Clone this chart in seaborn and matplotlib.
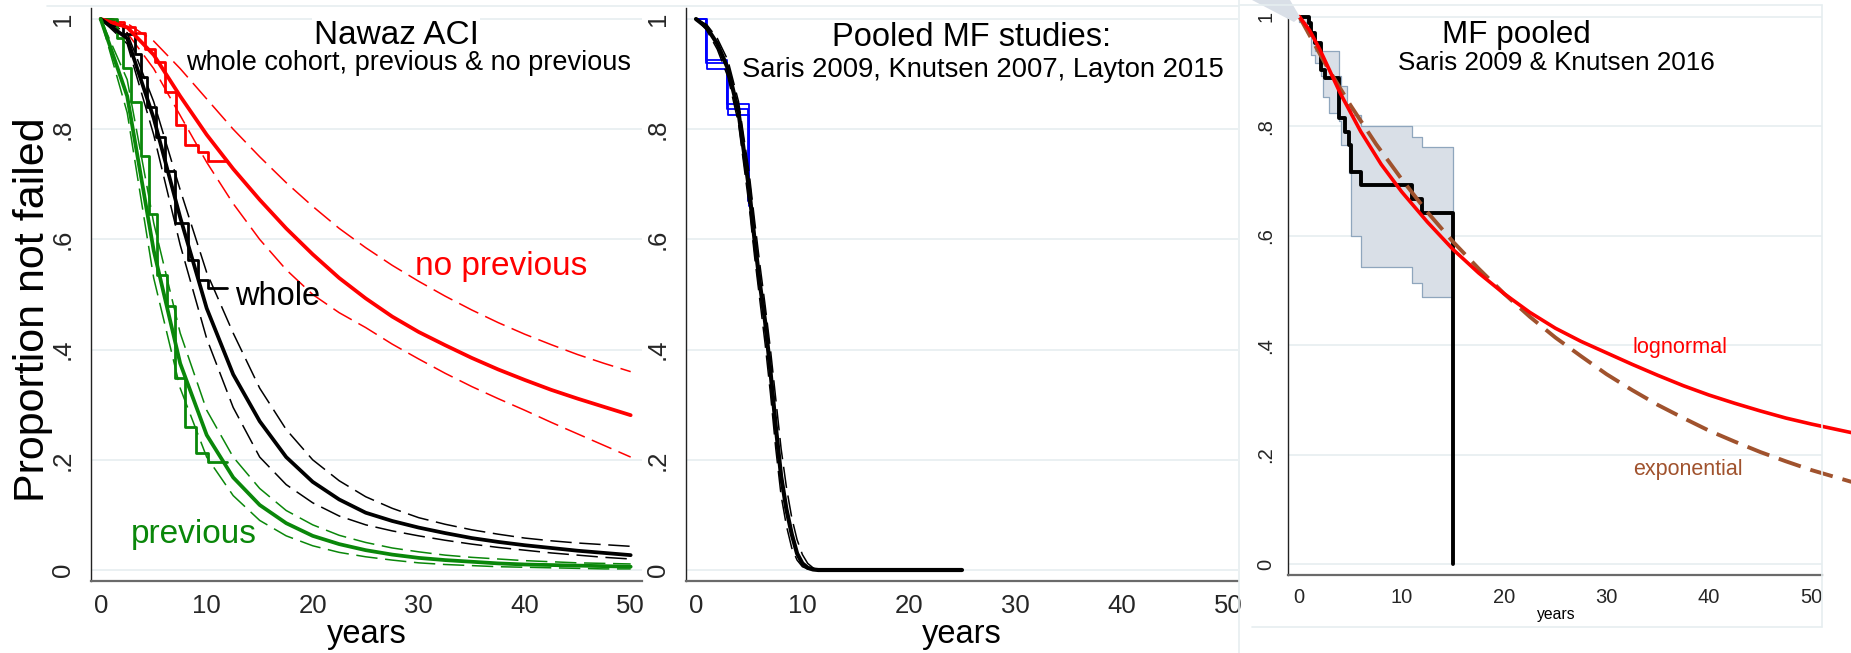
import matplotlib
matplotlib.use('Agg')
import matplotlib.pyplot as plt
import seaborn as sns
from matplotlib.lines import Line2D
from matplotlib.patches import Polygon

sns.set_style('white')
plt.rcParams['font.family'] = ['Liberation Sans', 'DejaVu Sans']

# ---------------- panel 1 : Nawaz ACI ----------------
fit_t = [0, 2.5, 5, 7.5, 10, 12.5, 15, 17.5, 20, 22.5, 25, 27.5, 30, 32.5, 35, 37.5, 40, 42.5, 45, 47.5, 50]

nop_km_t = [0, 1.2, 2.2, 3.2, 4.2, 5.1, 6.1, 7.1, 8.0, 9.2, 10.1, 11.9]
nop_km_s = [1, 0.995, 0.985, 0.975, 0.945, 0.922, 0.868, 0.808, 0.771, 0.759, 0.742, 0.742]
nop_fit = [1, 0.985, 0.935, 0.86, 0.79, 0.728, 0.672, 0.62, 0.573, 0.53, 0.493, 0.46, 0.432,
           0.408, 0.385, 0.364, 0.345, 0.327, 0.311, 0.296, 0.281]
nop_hi = [1, 0.992, 0.96, 0.91, 0.855, 0.80, 0.75, 0.703, 0.66, 0.62, 0.585, 0.553, 0.524,
          0.497, 0.472, 0.449, 0.428, 0.409, 0.391, 0.375, 0.36]
nop_lo = [1, 0.975, 0.91, 0.825, 0.74, 0.665, 0.60, 0.545, 0.50, 0.467, 0.44, 0.41, 0.383,
          0.357, 0.333, 0.311, 0.29, 0.268, 0.247, 0.226, 0.205]

whole_km_t = [0, 1, 2.1, 3.2, 3.8, 4.4, 5.2, 6.1, 7.0, 8.2, 9.2, 10.1, 11.9]
whole_km_s = [1, 0.99, 0.973, 0.937, 0.894, 0.84, 0.785, 0.725, 0.63, 0.562, 0.526, 0.511, 0.511]
whole_fit = [1, 0.965, 0.82, 0.64, 0.475, 0.355, 0.27, 0.205, 0.16, 0.128, 0.104, 0.089, 0.077,
             0.067, 0.058, 0.051, 0.045, 0.04, 0.035, 0.031, 0.027]
whole_hi = [1, 0.975, 0.85, 0.69, 0.54, 0.43, 0.33, 0.255, 0.20, 0.162, 0.133, 0.112, 0.095,
            0.083, 0.073, 0.065, 0.058, 0.053, 0.049, 0.046, 0.043]
whole_lo = [1, 0.955, 0.79, 0.59, 0.42, 0.295, 0.205, 0.155, 0.122, 0.098, 0.082, 0.071, 0.062,
            0.054, 0.047, 0.041, 0.036, 0.031, 0.027, 0.023, 0.02]

prev_km_t = [0, 1.5, 2.1, 2.9, 3.8, 4.6, 5.3, 6.3, 7.0, 8.0, 9.0, 10.1, 11.9]
prev_km_s = [1, 0.966, 0.912, 0.85, 0.752, 0.647, 0.535, 0.48, 0.348, 0.26, 0.212, 0.196, 0.196]
prev_fit = [1, 0.86, 0.58, 0.375, 0.245, 0.168, 0.118, 0.085, 0.062, 0.047, 0.036, 0.028, 0.022,
            0.018, 0.015, 0.012, 0.01, 0.009, 0.008, 0.007, 0.006]
prev_hi = [1, 0.89, 0.63, 0.43, 0.29, 0.205, 0.148, 0.108, 0.082, 0.063, 0.05, 0.04, 0.033,
           0.027, 0.023, 0.02, 0.017, 0.015, 0.013, 0.012, 0.011]
prev_lo = [1, 0.83, 0.53, 0.33, 0.205, 0.135, 0.09, 0.062, 0.044, 0.032, 0.024, 0.018, 0.013,
           0.01, 0.008, 0.006, 0.005, 0.004, 0.003, 0.002, 0.002]

# ---------------- panel 2 : pooled MF studies ----------------
pool_t = [0, 1, 2, 3, 4, 5, 5.5, 6, 6.5, 7, 7.5, 8, 8.5, 9, 9.5, 10, 10.5, 11, 11.5, 12, 25]
pool_fit = [1, 0.985, 0.955, 0.91, 0.83, 0.69, 0.60, 0.52, 0.45, 0.36, 0.26, 0.17, 0.11, 0.065, 0.03, 0.012, 0.004, 0.001, 0, 0, 0]
pool_hi = [1, 0.99, 0.965, 0.925, 0.85, 0.72, 0.635, 0.555, 0.48, 0.40, 0.31, 0.22, 0.15, 0.095, 0.055, 0.028, 0.012, 0.004, 0.001, 0, 0]
pool_lo = [1, 0.98, 0.945, 0.895, 0.81, 0.66, 0.57, 0.49, 0.41, 0.32, 0.22, 0.135, 0.08, 0.04, 0.018, 0.006, 0.002, 0, 0, 0, 0]
pool_km = [
    ([0, 0.9, 2.9, 4.9], [1, 0.92, 0.837, 0.67]),
    ([0, 1.0, 3.0, 5.0], [1, 0.91, 0.825, 0.66]),
    ([0, 0.95, 2.95, 4.95], [1, 0.925, 0.845, 0.69]),
]

# ---------------- panel 3 : MF pooled ----------------
mf_km_t = [0, 0.97, 1.16, 1.55, 2.13, 2.5, 3.87, 4.45, 4.83, 5.03, 6.0, 11.0, 12.0, 15.0]
mf_km_s = [1, 0.988, 0.97, 0.952, 0.903, 0.888, 0.815, 0.79, 0.766, 0.717, 0.693, 0.667, 0.642, 0.0]
band_t = [0, 0.8, 1.16, 1.35, 1.55, 2.13, 2.32, 2.9, 3.87, 4.06, 4.64, 4.83, 5.03, 6.0, 11.0, 12.0, 15.0]
band_hi = [1.0, 0.97, 0.97, 0.97, 0.937, 0.937, 0.937, 0.937, 0.891, 0.873, 0.839, 0.839, 0.821, 0.801, 0.781, 0.762, 0.762]
band_lo = [0.99, 0.97, 0.93, 0.93, 0.915, 0.891, 0.854, 0.824, 0.809, 0.766, 0.766, 0.714, 0.60, 0.543, 0.513, 0.488, 0.488]
logn_t = [0, 1, 2, 3, 4, 6, 8, 10, 12.5, 15, 17.5, 20, 22.5, 25, 27.5, 30, 32.5, 35, 37.5, 40, 42.5, 45, 47.5, 50, 54]
logn_s = [1, 0.975, 0.94, 0.90, 0.86, 0.79, 0.73, 0.68, 0.625, 0.575, 0.532, 0.494, 0.46, 0.431, 0.407,
          0.386, 0.365, 0.345, 0.326, 0.309, 0.294, 0.28, 0.267, 0.256, 0.24]
expo_t = [0, 2.5, 5, 7.5, 10, 12.5, 15, 17.5, 20, 22.5, 25, 27.5, 30, 32.5, 35, 37.5, 40, 42.5, 45, 47.5, 50, 54]
expo_s = [1, 0.915, 0.838, 0.767, 0.703, 0.643, 0.589, 0.54, 0.494, 0.452, 0.414, 0.38, 0.347,
          0.318, 0.291, 0.267, 0.244, 0.224, 0.205, 0.188, 0.172, 0.15]

yticks = [0, 0.2, 0.4, 0.6, 0.8, 1]
ylabels = ['0', '.2', '.4', '.6', '.8', '1']
xticks = [0, 10, 20, 30, 40, 50]

RED = '#ff0000'
GREEN = '#0a870a'
BROWN = '#a0522d'
GRID = '#e6eef0'
DASH = (0, (14, 5))

W, H = 1851, 653
fig = plt.figure(figsize=(W / 100, H / 100), dpi=100)


def px_axes(left, right, top, bottom):
    return fig.add_axes([left / W, 1 - bottom / H, (right - left) / W, (bottom - top) / H])


def label(x, y, s, size, color='black', **kw):
    fig.text(x / W, 1 - y / H, s, fontsize=size, color=color, ha='center', va='center', **kw)


def curve(ax, t, s, **kw):
    sns.lineplot(x=t, y=s, ax=ax, estimator=None, errorbar=None, sort=False, **kw)


def style(ax, xlim, ylim, tsize, ypad):
    ax.set_xlim(*xlim)
    ax.set_ylim(*ylim)
    for side in ['top', 'right']:
        ax.spines[side].set_visible(False)
    ax.spines['left'].set_color('#222222')
    ax.spines['left'].set_linewidth(1.0)
    ax.spines['bottom'].set_color('#6a6a6a')
    ax.spines['bottom'].set_linewidth(1.6)
    ax.set_xticks(xticks)
    ax.set_xticklabels([str(v) for v in xticks])
    ax.set_yticks(yticks)
    ax.set_yticklabels(ylabels)
    ax.tick_params(axis='x', length=4.5, width=1.0, color='#6a6a6a', pad=5, labelsize=tsize)
    ax.tick_params(axis='y', length=4.5, width=1.0, color='#444444', pad=ypad, labelsize=tsize)
    for lab in ax.get_yticklabels():
        lab.set_rotation(90)
        lab.set_va('center')
    ax.set_xlabel('')
    ax.set_ylabel('')
    ax.patch.set_alpha(0)


# ---- panel 1
ax1 = px_axes(90.7, 641.7, 8, 580.7)
ax1.hlines(yticks, -1, 52, color=GRID, lw=1.2, zorder=0)
for hi, lo, col in [(nop_hi, nop_lo, RED), (whole_hi, whole_lo, 'black'), (prev_hi, prev_lo, GREEN)]:
    curve(ax1, fit_t, hi, color=col, lw=1.1, linestyle=DASH)
    curve(ax1, fit_t, lo, color=col, lw=1.1, linestyle=DASH)
curve(ax1, nop_km_t, nop_km_s, color=RED, lw=2.0, drawstyle='steps-post')
curve(ax1, whole_km_t, whole_km_s, color='black', lw=2.0, drawstyle='steps-post')
curve(ax1, prev_km_t, prev_km_s, color=GREEN, lw=2.0, drawstyle='steps-post')
curve(ax1, fit_t, nop_fit, color=RED, lw=2.7)
curve(ax1, fit_t, whole_fit, color='black', lw=2.7)
curve(ax1, fit_t, prev_fit, color=GREEN, lw=2.7)
style(ax1, (-0.943, 51.04), (-0.0194, 1.02), 18.5, 7)

# ---- panel 2
ax2 = px_axes(685.7, 1238.3, 8, 580.7)
ax2.hlines(yticks, -1, 52, color=GRID, lw=1.2, zorder=0)
for kt, ks in pool_km:
    curve(ax2, kt, ks, color='#0000ff', lw=1.3, drawstyle='steps-post')
curve(ax2, pool_t, pool_hi, color='black', lw=1.1, linestyle=DASH)
curve(ax2, pool_t, pool_lo, color='black', lw=1.1, linestyle=DASH)
curve(ax2, pool_t, pool_fit, color='black', lw=3.0)
style(ax2, (-0.968, 50.97), (-0.0194, 1.02), 18.5, 7)

# ---- panel 3
ax3 = px_axes(1288.3, 1851, 6.7, 574.7)
ax3.hlines(yticks, -1.07, 51.0, color=GRID, lw=1.2, zorder=0)
ax3.fill_between(band_t, band_lo, band_hi, step='post', facecolor='#d9dfe7',
                 edgecolor='#8fa6bd', lw=0.9, zorder=1)
curve(ax3, mf_km_t, mf_km_s, color='black', lw=2.8, drawstyle='steps-post')
curve(ax3, expo_t, expo_s, color=BROWN, lw=2.8, linestyle=(0, (6, 2.6)))
curve(ax3, logn_t, logn_s, color=RED, lw=2.6)
style(ax3, (-1.074, 53.86), (-0.019, 1.018), 14.5, 5)
ax3.spines['bottom'].set_bounds(-1.074, 51.0)

# screenshot borders / faint frame lines
for xs, ys in [([47, 1239], [6, 6]), ([1239, 1239], [0, 653]), ([1252, 1822], [627, 627]),
               ([1822, 1822], [5, 627]), ([1240, 1822], [5, 5])]:
    fig.add_artist(Line2D([x / W for x in xs], [1 - y / H for y in ys], color=GRID, lw=1.2))
fig.add_artist(Polygon([(1252 / W, 1.0), (1290 / W, 1.0), (1300 / W, 1 - 17 / H), (1294 / W, 1 - 22 / H)],
                       closed=True, facecolor='#d9dfe7', edgecolor='none'))

# texts
label(396, 35, 'Nawaz ACI', 24, bbox=dict(facecolor='white', edgecolor='none', pad=1))
label(409, 63, 'whole cohort, previous & no previous', 19.5)
label(501, 267, 'no previous', 24, RED)
label(277.5, 297, 'whole', 23.5)
label(194, 535, 'previous', 24, GREEN)
label(33, 310, 'Proportion not failed', 31, rotation=90)
label(367, 635, 'years', 23.5)

label(972, 37, 'Pooled MF studies:', 23.5)
label(983, 70, 'Saris 2009, Knutsen 2007, Layton 2015', 19.7)
label(961.7, 635, 'years', 23.5)

label(1516, 35, 'MF pooled', 22.6)
label(1556, 63, 'Saris 2009 & Knutsen 2016', 18.7)
label(1679.5, 347, 'lognormal', 15.6, RED)
label(1688, 470, 'exponential', 15.5, BROWN)
label(1556, 615, 'years', 11.3)

fig.savefig('out.png', dpi=100)
